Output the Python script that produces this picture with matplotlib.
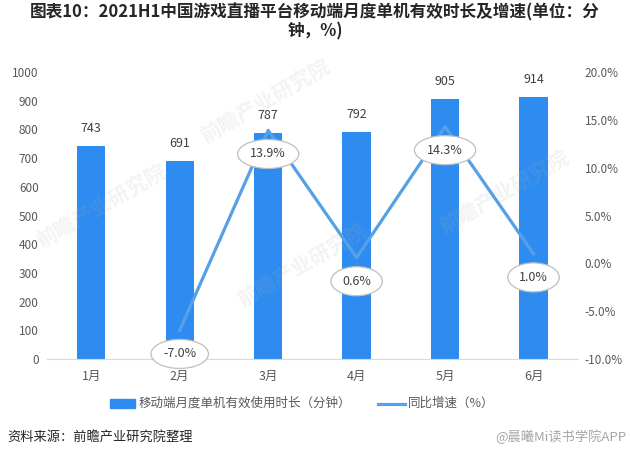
import numpy as np
import matplotlib.pyplot as plt
from matplotlib.ticker import FuncFormatter

plt.rcParams['font.family'] = ['Noto Sans CJK SC', 'DejaVu Sans']

months = ['1月', '2月', '3月', '4月', '5月', '6月']
minutes = [743, 691, 787, 792, 905, 914]
growth = [None, -7.0, 13.9, 0.6, 14.3, 1.0]

bar_color = '#2E8CF0'
line_color = '#55A0E6'
txt_color = '#595959'

fig = plt.figure(figsize=(6.3, 4.57), dpi=100)
ax = fig.add_axes([0.0746, 0.2144, 0.8425, 0.628])
ax2 = ax.twinx()

x = np.arange(len(months))
ax.bar(x, minutes, width=0.32, color=bar_color, zorder=2)
for xi, v in zip(x, minutes):
    ax.annotate(str(v), (xi, v), xytext=(0, 8), textcoords='offset points',
                ha='center', va='bottom', fontsize=9, color='#404040')

gx = [xi for xi, g in zip(x, growth) if g is not None]
gy = [g for g in growth if g is not None]
ax2.plot(gx, gy, color=line_color, lw=2.3, zorder=3)
for xi, g in zip(gx, gy):
    ax2.annotate('{:.1f}%'.format(g), (xi, g), xytext=(0, -17), textcoords='offset points',
                 ha='center', va='center', fontsize=9, color='#404040', zorder=5,
                 bbox=dict(boxstyle='ellipse,pad=0.3', fc='white', ec='#BFBFBF', lw=0.9))

ax.set_xlim(-0.5, 5.5)
ax.set_ylim(0, 1000)
ax.set_yticks(range(0, 1001, 100))
ax2.set_ylim(-10, 20)
ax2.set_yticks(np.arange(-10, 20.1, 5))
ax2.yaxis.set_major_formatter(FuncFormatter(lambda v, p: '{:.1f}%'.format(v)))
ax.set_xticks(x)
ax.set_xticklabels(months)

for a in (ax, ax2):
    for s in a.spines.values():
        s.set_visible(False)
    a.tick_params(length=0, labelsize=8.5, colors=txt_color)
ax.spines['bottom'].set_visible(True)
ax.spines['bottom'].set_color('#D9D9D9')
ax.tick_params(axis='x', pad=8, labelsize=9)
ax.tick_params(axis='y', pad=6)
ax2.tick_params(axis='y', pad=5)

# faint watermarks
for wx, wy in [(0.16, 0.55), (0.42, 0.78), (0.48, 0.42), (0.80, 0.58)]:
    fig.text(wx, wy, '前瞻产业研究院', fontsize=15, fontweight='bold', color='#B0B0B0',
             rotation=30, ha='center', va='center', alpha=0.15, zorder=10)

fig.text(0.5, 0.952, '图表10：2021H1中国游戏直播平台移动端月度单机有效时长及增速(单位：分\n钟，%)',
         ha='center', va='center', fontsize=12, fontweight='bold', color='#262626',
         linespacing=1.05)

# legend
fig.patches.append(plt.Rectangle((0.175, 0.107), 0.04, 0.02, transform=fig.transFigure,
                                 color=bar_color))
fig.text(0.22, 0.117, '移动端月度单机有效使用时长（分钟）', fontsize=9, color=txt_color, va='center')
fig.lines.append(plt.Line2D([0.6, 0.643], [0.117, 0.117], transform=fig.transFigure,
                            color=line_color, lw=2.3))
fig.text(0.648, 0.117, '同比增速（%）', fontsize=9, color=txt_color, va='center')

fig.text(0.012, 0.044, '资料来源：前瞻产业研究院整理', fontsize=9.5, color='#262626', va='center')
fig.text(0.995, 0.044, '@晨曦Mi读书学院APP', fontsize=9.5, color='#A6A6A6', va='center', ha='right')

fig.savefig('out.png', dpi=100)
